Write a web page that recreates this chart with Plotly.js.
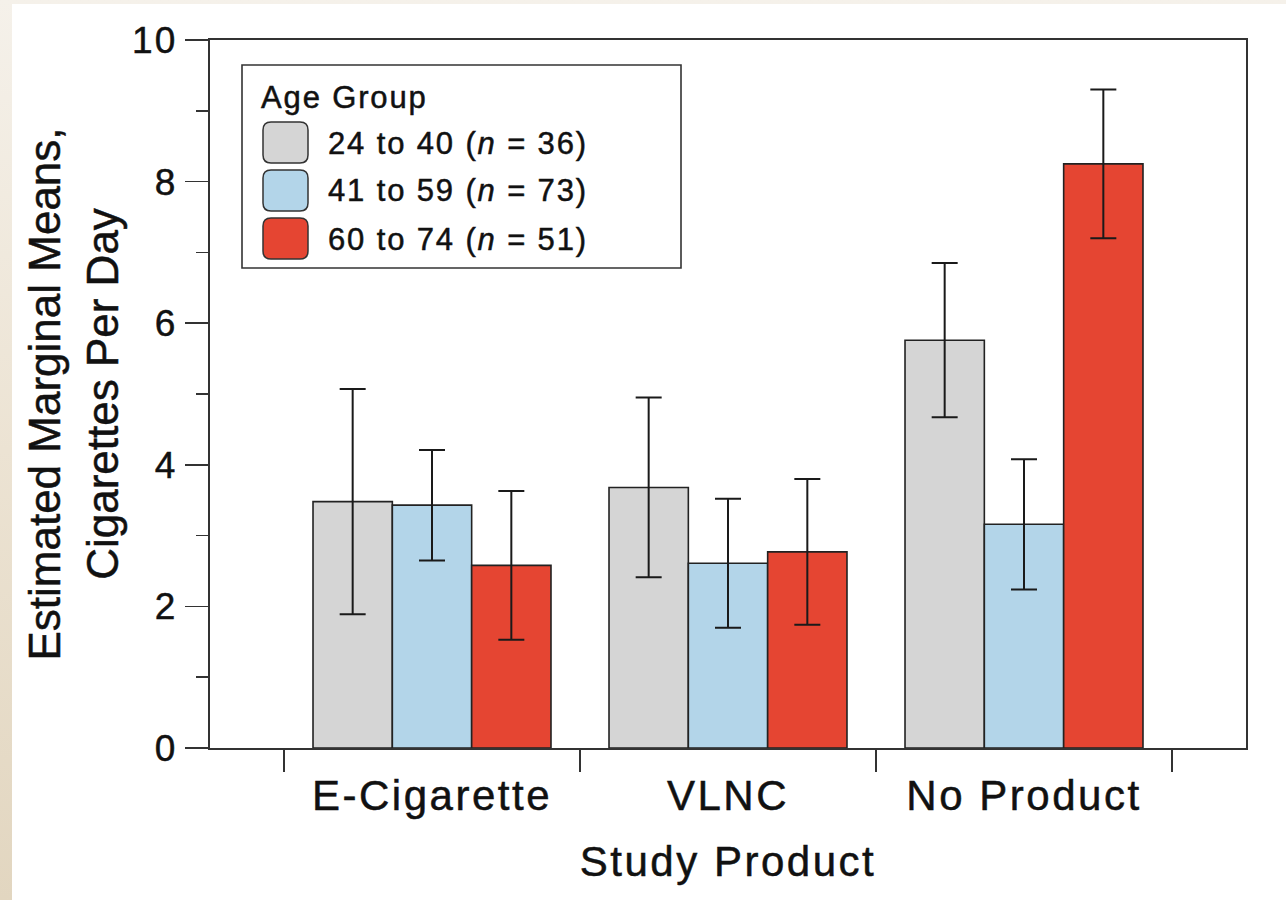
<!DOCTYPE html>
<html>
<head>
<meta charset="utf-8">
<script src="https://cdn.plot.ly/plotly-3.0.1.min.js"></script>
<style>
  html, body { margin: 0; padding: 0; }
  body { width: 1286px; height: 900px; background: linear-gradient(to bottom, #f5f1ea 0%, #ece3d3 50%, #e2d6c0 100%); }
  #chart { width: 1286px; height: 900px; }
  .xtick text, .g-xtitle text, .annotation-text, .ytick text { letter-spacing: 0.06em; }
  .main-svg text { stroke: #111; stroke-width: 0.5px; }
</style>
</head>
<body>
<div id="chart"></div>
<script>
// ---- data ----
const categories = ['E-Cigarette', 'VLNC', 'No Product'];
const groupLabels = ['24 to 40 (<i>n</i> = 36)', '41 to 59 (<i>n</i> = 73)', '60 to 74 (<i>n</i> = 51)'];
const means_24_40 = [3.48, 3.68, 5.76];
const err_24_40   = [1.59, 1.27, 1.09];
const means_41_59 = [3.43, 2.61, 3.16];
const err_41_59   = [0.78, 0.91, 0.92];
const means_60_74 = [2.58, 2.77, 8.25];
const err_60_74   = [1.05, 1.03, 1.05];
const groupColors = ['#d5d5d5', '#b3d5e9', '#e54532'];
const yTickVals = [0, 2, 4, 6, 8, 10];
const legendTitle = 'Age Group';
const xTitle = 'Study Product';
const yTitle = 'Estimated Marginal Means,<br>Cigarettes Per Day';

const FONT = 'Liberation Sans, Arial, Helvetica, sans-serif';
const W = 1286, H = 900;
const M = {l: 210, r: 40, t: 40, b: 152};
const PW = W - M.l - M.r, PH = H - M.t - M.b;
const px2x = p => (p - M.l) / PW;
const px2y = p => (H - M.b - p) / PH;

const allMeans = [means_24_40, means_41_59, means_60_74];
const allErrs = [err_24_40, err_41_59, err_60_74];

const traces = allMeans.map((m, i) => ({
  type: 'bar',
  x: categories,
  y: m,
  name: groupLabels[i],
  marker: {color: groupColors[i], line: {color: '#222', width: 1.6}},
  error_y: {type: 'data', array: allErrs[i], visible: true, color: '#1a1a1a', thickness: 2, width: 13},
  showlegend: false,
  hoverinfo: 'skip'
}));

// legend drawn as shapes + annotations
function roundRect(x0, y0, x1, y1, r) {
  const X = px2x, Y = px2y;
  return 'M' + X(x0 + r) + ',' + Y(y0) +
    ' L' + X(x1 - r) + ',' + Y(y0) +
    ' Q' + X(x1) + ',' + Y(y0) + ' ' + X(x1) + ',' + Y(y0 + r) +
    ' L' + X(x1) + ',' + Y(y1 - r) +
    ' Q' + X(x1) + ',' + Y(y1) + ' ' + X(x1 - r) + ',' + Y(y1) +
    ' L' + X(x0 + r) + ',' + Y(y1) +
    ' Q' + X(x0) + ',' + Y(y1) + ' ' + X(x0) + ',' + Y(y1 - r) +
    ' L' + X(x0) + ',' + Y(y0 + r) +
    ' Q' + X(x0) + ',' + Y(y0) + ' ' + X(x0 + r) + ',' + Y(y0) + ' Z';
}

const shapes = [
  {type: 'rect', xref: 'paper', yref: 'paper', layer: 'below',
   x0: px2x(12), x1: px2x(W + 5), y0: px2y(H + 5), y1: px2y(4),
   fillcolor: '#ffffff', line: {width: 0}},
  {type: 'rect', xref: 'paper', yref: 'paper',
   x0: px2x(242), x1: px2x(681), y0: px2y(268), y1: px2y(65),
   fillcolor: '#ffffff', line: {color: '#333', width: 1.6}}
];
const annotations = [
  {xref: 'paper', yref: 'paper', x: px2x(259), y: px2y(97), xanchor: 'left', yanchor: 'middle',
   text: legendTitle, showarrow: false, font: {family: FONT, size: 31, color: '#111'}}
];
const swTop = [122, 170, 218];
groupLabels.forEach((lab, i) => {
  shapes.push({type: 'path', xref: 'paper', yref: 'paper',
    path: roundRect(263, swTop[i], 308, swTop[i] + 41, 8),
    fillcolor: groupColors[i], line: {color: '#333', width: 1.5}});
  annotations.push({xref: 'paper', yref: 'paper', x: px2x(326), y: px2y(swTop[i] + 21),
    xanchor: 'left', yanchor: 'middle', text: lab, showarrow: false,
    font: {family: FONT, size: 31, color: '#111'}});
});

const layout = {
  width: W, height: H,
  margin: M,
  paper_bgcolor: 'rgba(0,0,0,0)',
  plot_bgcolor: 'rgba(0,0,0,0)',
  font: {family: FONT, color: '#111'},
  barmode: 'group',
  bargap: 0.196,
  bargroupgap: 0,
  showlegend: false,
  xaxis: {
    type: 'category',
    range: [-0.75, 2.75],
    tickson: 'boundaries',
    ticks: 'outside', ticklen: 22, tickwidth: 1.5, tickcolor: '#333',
    ticklabelstandoff: 10,
    showline: true, linecolor: '#333', linewidth: 2, mirror: true,
    showgrid: false, zeroline: false,
    tickfont: {family: FONT, size: 42, color: '#111'},
    title: {text: xTitle, font: {family: FONT, size: 42, color: '#111'}, standoff: 28}
  },
  yaxis: {
    range: [0, 10],
    tickvals: yTickVals,
    ticks: 'outside', ticklen: 23, tickwidth: 1.5, tickcolor: '#333',
    minor: {dtick: 1, ticks: 'outside', ticklen: 12, tickwidth: 1.5, tickcolor: '#333', showgrid: false},
    showline: true, linecolor: '#333', linewidth: 2, mirror: true,
    showgrid: false, zeroline: false,
    tickfont: {family: FONT, size: 37, color: '#111'},
    title: {text: yTitle, font: {family: FONT, size: 44, color: '#111'}, standoff: 0}
  },
  shapes: shapes,
  annotations: annotations
};

Plotly.newPlot('chart', traces, layout, {displayModeBar: false, staticPlot: true});
</script>
</body>
</html>
